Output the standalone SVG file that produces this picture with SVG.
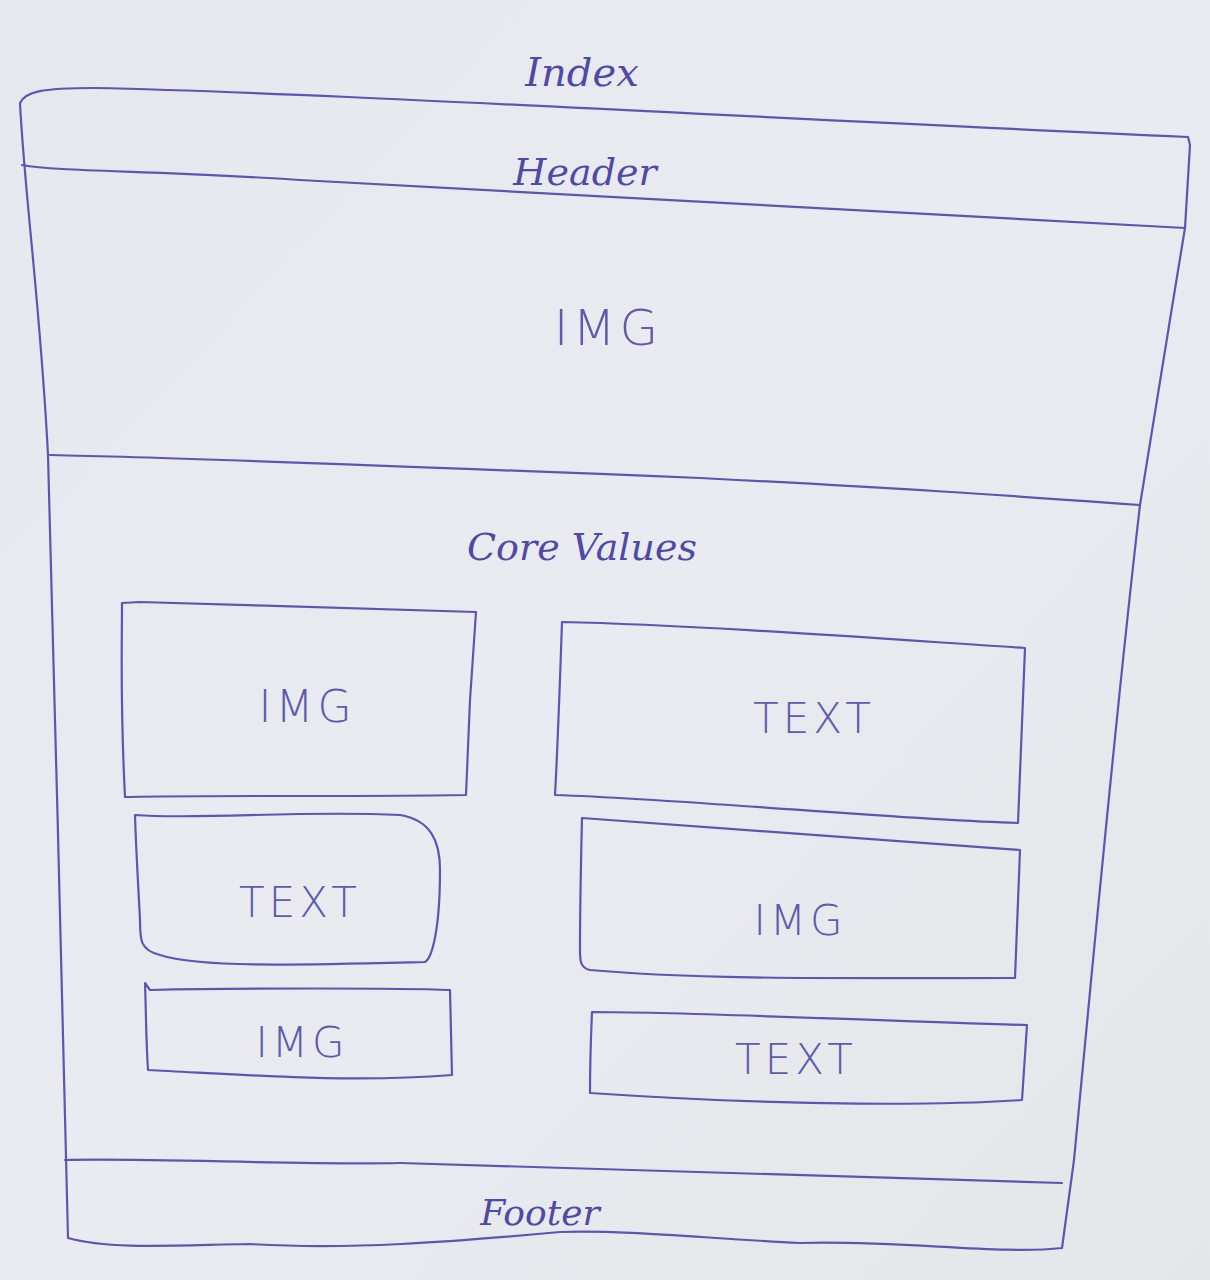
<svg xmlns="http://www.w3.org/2000/svg" width="1210" height="1280" viewBox="0 0 1210 1280">
<defs>
<linearGradient id="paper" x1="0" y1="0" x2="1" y2="1">
<stop offset="0" stop-color="#e6e8ee"/>
<stop offset="0.5" stop-color="#e9ebf0"/>
<stop offset="1" stop-color="#e4e6ea"/>
</linearGradient>
<style>
.ink{fill:none;stroke:#5b56b2;stroke-width:2.2;stroke-linecap:round;stroke-linejoin:round}
.hand{font-family:"DejaVu Serif","Liberation Serif",serif;font-style:italic;fill:#4e4aa6;text-anchor:middle}
.lbl{font-family:"DejaVu Sans","Liberation Sans",sans-serif;font-weight:200;fill:#5f5aae;text-anchor:middle;letter-spacing:4px}
</style>
</defs>
<rect width="1210" height="1280" fill="url(#paper)"/>
<g id="page">
<path class="ink" d="M20,103 C25,92 40,88 95,88 C300,92 700,115 1188,137 L1190,145 L1185,228 C1170,320 1155,410 1140,505 C1115,720 1095,940 1074,1160 L1062,1248 C1000,1255 900,1240 800,1243 C700,1238 630,1230 560,1232 C450,1242 350,1250 250,1244 C180,1245 110,1250 68,1238 C62,1000 55,700 48,455 C40,300 25,200 20,103 Z"/>
<text class="hand" x="582" y="86" font-size="40">Index</text>
</g>
<g id="header">
<path class="ink" d="M22,165 C60,172 150,170 300,180 C500,190 700,200 1185,228"/>
<text class="hand" x="585" y="185" font-size="38">Header</text>
</g>
<g id="hero-img">
<path class="ink" d="M50,455 C200,458 500,470 700,478 C900,488 1000,495 1140,505"/>
<text class="lbl" x="608" y="345" font-size="50">IMG</text>
</g>
<g id="core-values">
<text class="hand" x="582" y="560" font-size="38">Core Values</text>
</g>
<g id="box-l1">
<path class="ink" d="M122,603 L140,602 C250,605 400,610 476,612 L470,700 L466,795 C350,797 200,795 125,797 C120,700 122,650 122,603 Z"/>
<text class="lbl" x="307" y="722" font-size="44">IMG</text>
</g>
<g id="box-r1">
<path class="ink" d="M562,622 C700,625 900,640 1025,648 L1018,823 C900,820 700,800 555,795 C558,740 560,680 562,622 Z"/>
<text class="lbl" x="814" y="733" font-size="42">TEXT</text>
</g>
<g id="box-l2">
<path class="ink" d="M135,815 C200,820 300,810 400,815 C430,820 440,840 440,870 C440,930 432,958 425,962 C300,965 200,968 160,955 C140,950 140,940 140,920 C138,880 136,850 135,815 Z"/>
<text class="lbl" x="300" y="917" font-size="42">TEXT</text>
</g>
<g id="box-r2">
<path class="ink" d="M582,818 C600,820 800,835 1020,850 L1015,978 C850,978 700,980 590,970 C580,968 580,960 580,950 C580,900 581,860 582,818 Z"/>
<text class="lbl" x="800" y="935" font-size="42">IMG</text>
</g>
<g id="box-l3">
<path class="ink" d="M145,983 L150,990 C250,988 400,988 450,990 L452,1075 C350,1083 250,1075 148,1070 C146,1040 146,1010 145,983 Z"/>
<text class="lbl" x="302" y="1057" font-size="42">IMG</text>
</g>
<g id="box-r3">
<path class="ink" d="M592,1012 C700,1012 900,1022 1027,1025 L1022,1100 C950,1105 800,1107 590,1093 C590,1060 591,1035 592,1012 Z"/>
<text class="lbl" x="796" y="1074" font-size="42">TEXT</text>
</g>
<g id="footer">
<path class="ink" d="M65,1160 C150,1158 300,1165 400,1163 C600,1170 800,1176 1062,1183"/>
<text class="hand" x="540" y="1225" font-size="36">Footer</text>
</g>
<g id="connectors"/>
</svg>
